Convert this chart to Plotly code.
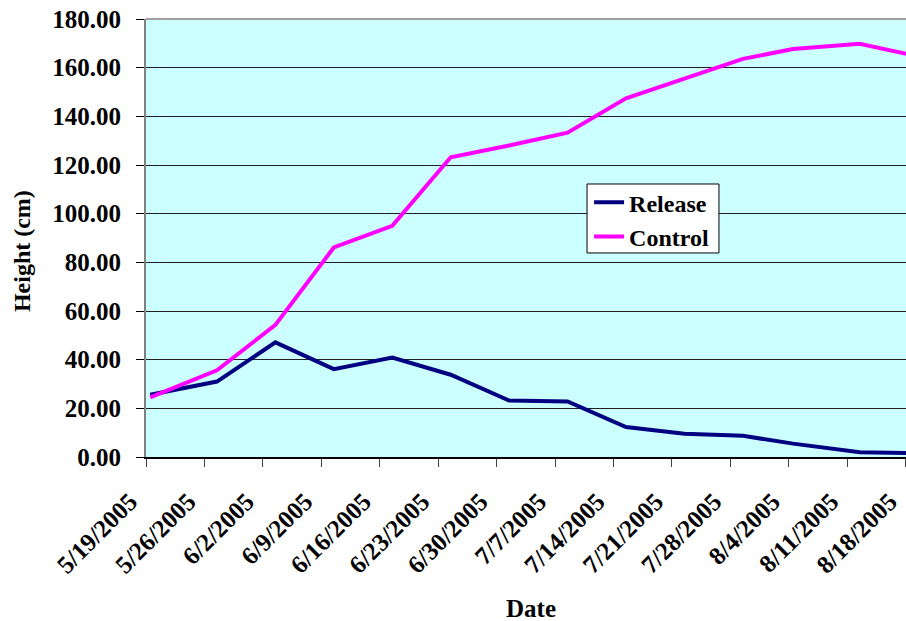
import pandas as pd
import plotly.graph_objects as go

# ---- data ----
dates = ["2005-05-19", "2005-05-27", "2005-06-03", "2005-06-10", "2005-06-17",
         "2005-06-24", "2005-07-01", "2005-07-08", "2005-07-15", "2005-07-22",
         "2005-07-29", "2005-08-04", "2005-08-12", "2005-08-18"]
release = [25.6, 31.0, 47.1, 36.1, 40.9, 33.8, 23.2, 22.8, 12.3, 9.6, 8.7, 5.5, 2.0, 1.6]
control = [24.5, 35.6, 54.3, 86.1, 95.0, 123.2, 128.0, 133.3, 147.4, 155.5, 163.6, 167.7, 169.8, 165.4]

tick_dates = ["2005-05-19", "2005-05-26", "2005-06-02", "2005-06-09", "2005-06-16",
              "2005-06-23", "2005-06-30", "2005-07-07", "2005-07-14", "2005-07-21",
              "2005-07-28", "2005-08-04", "2005-08-11", "2005-08-18"]
tick_labels = ["5/19/2005", "5/26/2005", "6/2/2005", "6/9/2005", "6/16/2005",
               "6/23/2005", "6/30/2005", "7/7/2005", "7/14/2005", "7/21/2005",
               "7/28/2005", "8/4/2005", "8/11/2005", "8/18/2005"]

# Excel date axis: each point sits in the middle of its day slot
x_pts = pd.to_datetime(dates) + pd.Timedelta(hours=12)
x_end = pd.to_datetime(tick_dates[-1]) + pd.Timedelta(hours=1)

FONT = "Liberation Serif"

fig = go.Figure()
fig.add_trace(go.Scatter(x=x_pts, y=release, mode="lines", name="Release",
                         line=dict(color="#000080", width=4)))
fig.add_trace(go.Scatter(x=x_pts, y=control, mode="lines", name="Control",
                         line=dict(color="#FF00FF", width=4)))

fig.update_layout(
    template="none",
    width=906, height=621,
    margin=dict(l=146, r=0, t=19, b=164, pad=0),
    paper_bgcolor="white",
    plot_bgcolor="#CCFFFF",
    font=dict(family=FONT, color="black", weight="bold"),
    showlegend=True,
    legend=dict(x=0.583, y=0.632, xanchor="left", yanchor="top",
                bgcolor="rgba(0,0,0,0)", borderwidth=0,
                font=dict(family=FONT, size=24, color="black", weight="bold"),
                tracegroupgap=0),
)

fig.update_xaxes(
    type="date",
    range=[pd.to_datetime(tick_dates[0]), x_end],
    tickmode="array", tickvals=tick_dates, ticktext=tick_labels,
    tickangle=-45,
    tickfont=dict(family=FONT, size=25, color="black", weight="bold"),
    ticklabeloverflow="allow",
    ticklabelshift=-16, ticklabelstandoff=10,
    ticks="outside", ticklen=8, tickwidth=1, tickcolor="#404040",
    showline=True, linecolor="black", linewidth=2,
    showgrid=False, zeroline=False,
)
fig.update_yaxes(
    range=[0, 180], dtick=20, tick0=0, tickformat=".2f",
    tickfont=dict(family=FONT, size=25, color="black", weight="bold"),
    ticklabeloverflow="allow",
    ticks="outside", ticklen=8, tickwidth=1, tickcolor="black",
    ticklabelstandoff=10,
    showline=True, linecolor="#808080", linewidth=2,
    showgrid=True, gridcolor="#202020", gridwidth=1,
    zeroline=False,
)

# top border of the plot area (light gray)
fig.add_shape(type="line", xref="paper", yref="paper", x0=0, x1=1, y0=1, y1=1,
              line=dict(color="#A0A0A0", width=2), layer="above")
# legend box
fig.add_shape(type="rect", xref="paper", yref="paper",
              x0=0.5803, x1=0.7539, y0=0.4658, y1=0.6233,
              fillcolor="white", line=dict(color="black", width=1), layer="above")

# axis titles
fig.add_annotation(text="Height (cm)", xref="paper", yref="paper",
                   x=-0.1632, y=0.470, xanchor="center", yanchor="middle",
                   textangle=-90, showarrow=False,
                   font=dict(family=FONT, size=24, color="black", weight="bold"))
fig.add_annotation(text="Date", xref="paper", yref="paper",
                   x=0.5066, y=-0.347, xanchor="center", yanchor="middle",
                   showarrow=False,
                   font=dict(family=FONT, size=25, color="black", weight="bold"))

fig.write_html("out.html", config={"displayModeBar": False},
               post_script="document.body.style.margin='0';")
